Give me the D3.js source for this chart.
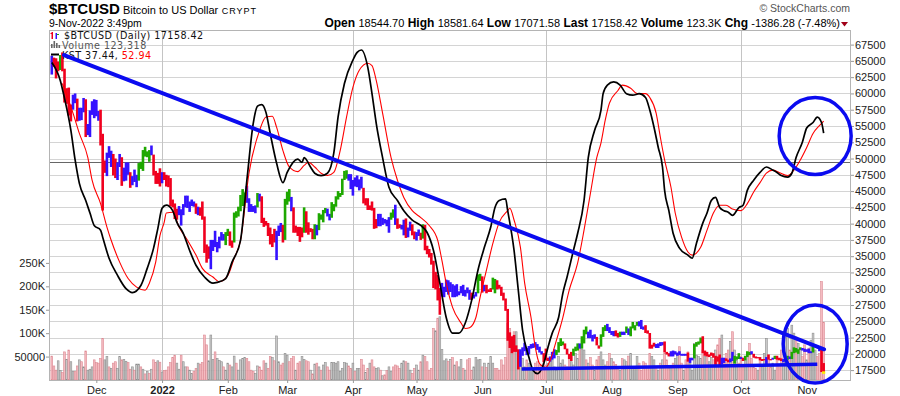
<!DOCTYPE html>
<html><head><meta charset="utf-8">
<script src="https://cdn.jsdelivr.net/npm/d3@7"></script>
<style>
body{margin:0;background:#fff;}
svg{display:block;font-family:"Liberation Sans",Arial,sans-serif;}
</style></head><body>
<svg id="chart" width="900" height="396"></svg>
<script>
// ---------------- DATA ----------------
const firstDay = "2021-11-10"; // daily bars, one per calendar day
const closes = [
64950,64860,64160,64470,65470,63560,60300,60370,56940,58120,59700,58730,56290,57570,57200,58900,53600,54800,57300,57800,57000,
56900,56500,53600,49200,49400,50600,50500,50600,47700,47200,49300,50100,46700,48400,48900,47600,46200,46800,46700,46900,49000,48600,50800,50400,50800,50600,50600,47500,46500,47100,46300,
47700,47300,46400,45900,43500,43100,41600,41800,41900,41800,42700,43900,42600,43100,43200,43100,42300,42400,41700,40700,36500,35100,36300,36700,36900,36800,37200,37700,38200,37900,38500,
38700,36900,37300,41600,41400,42400,43800,44100,44300,43600,42300,42200,42100,42600,44600,43900,40500,40000,40100,38400,37000,38300,37300,38300,39200,39100,37700,43200,
44400,44000,42400,39100,39400,38400,37900,38700,41900,39400,38700,38800,37800,39700,39300,41100,40900,41800,42200,41300,41000,42400,42900,44000,44300,44500,46800,47100,47500,47100,45500,
46300,45800,46400,46600,45500,43200,43400,42300,42800,42200,39500,40100,41200,39900,40500,40400,39700,40800,41500,41400,40500,39700,39500,39500,40400,38100,39200,39700,38600,37700,
38500,38500,37700,39700,36500,36000,35500,34100,30300,31000,29000,29000,29300,30100,31300,29900,30400,28700,30300,29200,29400,30300,29100,29700,29600,29300,28600,29000,29400,31700,31800,
29800,30500,29700,29900,29900,31400,31100,30200,30100,29100,28400,26800,22500,22200,22600,20400,20500,19000,20600,20600,20700,20000,21100,21200,21500,21000,20700,20300,20100,19800,
19300,19300,19300,20200,20200,20600,21600,21600,21600,20800,19900,19300,20200,20600,20800,21200,20800,22400,23400,23200,23200,22700,22500,22600,21300,21200,22900,23800,23800,23600,23300,
23300,23000,22800,22600,23300,23000,23200,23800,23200,23900,23900,24400,24400,24300,24100,23900,23300,23200,20900,21200,21500,21400,21500,21400,21600,20300,20100,19600,20300,19800,20000,
20100,20000,19800,20000,19800,18800,19300,19300,21400,21600,21800,22400,20200,20200,19700,19800,20100,19400,19500,18900,18500,19400,19300,18900,18800,19200,19100,19400,19600,19400,
19300,19000,19600,20300,20200,19900,19500,19400,19400,19100,19100,19200,19400,19200,19100,19300,19500,19300,19100,19000,19200,19200,19600,19300,20100,20800,20300,20600,20800,20600,20500,
20500,20200,20200,21100,21300,20900,20600,18500,17158.42];
const highs = [
65800,65500,65400,64900,65900,66300,63800,60800,60900,58300,59800,60000,59200,57800,57800,59300,59100,55300,57400,58800,59100,
59000,57300,57500,53800,49700,50900,51900,51200,50700,50000,49400,50700,50200,48600,49400,49400,47900,47300,48300,47500,49300,49500,51300,51800,51100,51300,52000,50600,48100,47800,48500,
47900,47900,47500,47400,47000,43700,43100,42300,42700,42200,43000,44300,44300,43400,43700,43400,43100,42600,42500,43400,41100,36800,36500,37500,37500,38900,37200,38000,38700,38400,38700,
39200,38800,37400,41700,41900,42600,44400,45300,44800,45800,43900,43000,42700,42800,44700,44600,44200,40900,40400,40100,39400,38400,39200,38900,39700,40100,39800,43800,
44900,45300,44100,42500,39700,39500,39500,39400,42500,41900,40200,39300,39200,39900,39800,41600,41400,42100,42400,42300,41500,43300,43000,44200,45000,44700,46900,48100,48200,47600,47600,
46700,47100,47400,46800,47200,45500,43900,43900,42800,43400,42400,40700,41500,41500,40900,40700,40600,41000,41700,42200,42900,40800,39900,39800,40600,40800,39400,40300,39900,38800,
38700,39100,38600,39900,39800,36600,36100,35500,34300,32600,32100,30100,30900,30300,31400,31300,31000,30700,30500,30700,29600,30400,30600,29800,30200,29800,29400,29100,29500,32200,32300,
31900,30600,30600,29900,30100,31700,31500,31300,30600,30300,29400,28500,26900,23300,22700,22900,21300,20700,20700,21000,21700,20900,21200,21500,21600,21800,21500,21100,20400,20100,
20800,19400,19600,20300,20700,20600,21800,22400,21900,21600,20800,20000,20300,20800,21100,21600,21600,22700,23700,24200,23400,23700,22900,23000,22600,21300,23000,24100,24400,24600,24100,
23500,23500,23600,23200,23400,23400,23400,24200,23900,24200,24900,24400,24900,25000,25200,24200,24400,23600,23200,21400,21700,21500,21600,21800,21800,21900,20300,20100,20400,20500,20400,
20200,20400,20000,20000,20000,20200,19400,19400,21500,21800,21900,22500,22700,20500,20300,19900,20200,20100,19700,19600,19900,19400,19400,19300,19100,19300,20300,19700,19600,20100,
19500,19400,19700,20400,20300,20400,20000,19600,19500,19500,19200,19200,19500,19900,19200,19400,19700,19700,19400,19300,19200,19300,19700,19600,20300,21000,20900,20700,21000,20900,20800,
20700,20800,20400,21300,21400,21300,21000,20700,18581.64];
const lows = [
62900,64100,62300,63400,63600,63400,58600,58400,56600,55700,57500,58500,55700,55800,55900,57100,53300,53600,53300,56700,56200,
56500,55800,52000,42000,47800,47300,50100,48700,47400,47000,46700,48700,45800,46500,46600,47500,45500,45900,46400,45600,46600,48400,48100,50300,50200,49500,50500,47400,46100,46100,45700,
46200,46700,45700,45600,42700,42500,40700,40600,41300,39700,41300,42500,42400,41800,42700,42600,41500,41300,41200,40600,35500,34000,34600,33000,35800,36400,35600,36200,37400,37400,36700,
38100,36600,36300,37100,40900,41100,41900,42700,43200,43200,41800,41800,41800,41600,42500,43400,40100,39500,39700,38100,36800,36400,37100,34400,38100,38700,37100,37500,
42900,43400,41900,38600,38600,38100,37200,37900,38600,38600,38300,38700,37600,37600,38200,39000,40600,40200,41600,41100,40500,40900,41900,42600,43700,44100,44400,46700,46900,46600,45300,
44300,45700,45600,45100,45400,43100,42800,42100,42100,42000,39200,39300,39600,39600,39800,40000,39600,38600,40600,40900,39800,39200,39300,39100,38200,37800,37900,38900,38200,37600,
37400,38100,37500,37700,35900,35300,34800,33700,30100,29900,28200,26000,28800,28700,29500,29100,29500,28700,28700,28800,29000,29300,28900,28800,29300,28300,28300,28500,28800,29300,31200,
29400,29600,29300,29500,29500,29900,29300,29900,30000,28900,28200,26600,22000,20900,20100,20300,20300,17600,18000,19700,20400,19800,19900,20800,20900,21000,20600,20200,19900,18700,
19000,18900,18800,19100,19300,19800,20200,21200,21300,20700,19900,19200,18900,19700,20400,20500,20800,20800,21600,23000,22400,22400,21900,22300,21300,20800,21100,22600,23500,23500,23200,
22900,22700,22700,22500,22600,22900,22900,23200,22900,22700,23900,23600,24300,24200,23800,23700,23200,23100,20800,20800,21100,20900,20900,21200,21300,20200,19900,19600,19600,19600,19900,
19700,19800,19700,19700,19700,18800,18600,19000,19300,21100,21400,21600,20100,19700,19600,19500,19700,19400,18300,18800,18200,18400,18600,18900,18700,18700,18900,18500,19100,19200,
19200,18900,19000,19500,19800,19900,19400,19300,19300,19000,18900,19000,18200,19100,19000,19100,19200,19100,19000,18900,18700,19100,19100,19200,19200,20100,20200,20000,20600,20500,20300,
20300,20100,20100,20200,21100,20900,20400,17200,17071.58];
// volume, thousands
const volumeK = [
51,30,21,41,20,16,60,44,64,39,18,18,30,43,39,28,62,21,23,28,43,37,36,46,89,43,50,28,25,36,
39,25,50,43,44,40,37,23,28,21,34,34,28,23,13,18,14,23,43,37,41,38,17,20,21,28,37,48,53,36,
23,53,39,28,28,21,14,18,25,36,34,37,96,75,41,96,44,60,46,42,39,28,21,36,32,28,51,36,21,43,
46,48,46,39,21,18,14,30,28,21,41,36,25,50,48,41,94,39,32,36,57,53,39,46,50,21,36,39,50,44,
41,39,21,13,34,36,28,21,32,37,28,21,37,37,36,39,18,25,37,36,30,25,36,18,25,25,44,32,16,25,
36,43,28,25,26,21,9,11,20,28,18,28,32,30,25,36,41,39,36,21,14,25,32,21,39,53,50,39,21,25,
110,105,132,135,65,41,45,40,
44,48,32,39,28,44,25,21,43,46,21,28,48,43,44,28,36,27,36,50,36,25,25,21,43,32,48,121,110,68,
103,103,60,50,46,28,43,36,28,21,36,39,32,25,36,32,35,39,43,28,21,50,36,43,32,28,50,39,32,57,
46,73,66,64,43,36,48,32,21,43,50,60,43,32,39,57,46,39,33,28,21,46,43,39,51,57,28,28,50,36,
21,39,36,28,57,50,43,28,21,36,43,57,43,25,30,36,46,57,71,36,21,43,60,36,21,78,53,50,46,64,
50,53,39,48,43,64,75,89,96,46,57,64,82,103,64,43,36,50,28,43,57,78,46,28,25,21,43,28,57,89,
43,28,36,21,43,32,64,43,92,110,64,117,100,92,78,64,50,75,43,68,85,100,64,50,57,210,123.318];
// KST (black) and its signal (red): day number since firstDay, value
const kstDays = [0,4,6,9,11,13,16,18,20,23,24,27,31,35,38,42,45,48,50,52,54,57,59,62,65,68,72,76,78,82,85,89,92,95,97,99,101,103,106,109,111,116,118,119,122,124,127,130,133,135,138,142,144,146,149,151,153,156,159,163,166,170,174,177,180,183,186,189,192,195,198,201,204,207,209,211,214,215,218,220,222,225,227,229,232,234,236,239,241,243,246,248,251,253,256,259,260,262,265,268,271,274,277,280,282,284,286,288,289,291,293,296,300,302,304,307,309,311,313,315,317,319,321,324,326,328,331,334,337,340,342,344,347,349,351,354,356,359,361,363,364];
const kstValues = [128,105,82,41,3,-27,-49,-65,-81,-87,-96,-123,-145,-162,-167,-158,-136,-110,-85,-59,-55,-62,-77,-91,-113,-132,-147,-155,-154,-149,-128,-100,-23,50,72,74,64,37,-1,-26,-13,4,0,6,-6,-14,-17,-14,12,58,101,131,141,144,122,88,50,6,-32,-49,-62,-74,-81,-90,-113,-155,-199,-219,-219,-206,-177,-138,-109,-83,-58,-49,-47,-62,-113,-164,-215,-250,-267,-271,-258,-237,-219,-199,-168,-147,-113,-91,-49,6,41,67,88,99,103,99,88,86,88,83,67,45,19,-6,-36,-62,-91,-110,-119,-123,-104,-78,-65,-49,-45,-58,-62,-64,-68,-58,-55,-36,-23,-13,-6,-10,-13,-17,-19,-14,6,26,44,51,58,51,37.44];
const signalDays = [5,10,13,17,19,23,26,28,32,36,40,44,46,49,51,53,54,57,60,64,68,71,76,79,83,86,89,93,98,101,104,106,109,112,116,119,121,124,127,130,133,136,139,142,145,149,151,153,156,160,163,166,170,174,178,182,184,186,189,193,195,197,200,202,205,208,211,215,216,218,221,223,226,228,230,233,235,238,241,244,248,251,254,257,259,261,263,267,269,273,276,280,282,285,287,289,292,294,297,300,302,306,309,312,315,318,321,325,328,331,334,337,340,343,347,350,353,356,359,362,364];
const signalValues = [101,63,37,6,-23,-53,-83,-100,-128,-149,-160,-164,-155,-128,-94,-77,-65,-64,-83,-100,-119,-136,-147,-153,-145,-123,-100,-14,41,58,59,45,15,-6,-12,-4,0,-6,-14,-17,-13,15,58,96,118,127,124,105,63,6,-23,-45,-62,-71,-81,-100,-126,-155,-186,-206,-213,-212,-199,-173,-138,-104,-77,-62,-59,-74,-109,-155,-199,-237,-258,-263,-254,-228,-199,-164,-129,-87,-40,6,25,54,76,92,99,95,88,88,83,63,32,3,-32,-65,-96,-115,-119,-109,-87,-65,-55,-55,-60,-62,-53,-38,-26,-14,-10,-13,-17,-10,3,19,37,47,52.94];
const priceTicks = [17500,20000,22500,25000,27500,30000,32500,35000,37500,40000,42500,45000,47500,50000,52500,55000,57500,60000,62500,65000,67500];
const volumeTicks = [50,100,150,200,250];
const volumeTickLabels = ["50000","100K","150K","200K","250K"];
const monthStarts = ["2021-12-01","2022-01-01","2022-02-01","2022-03-01","2022-04-01","2022-05-01","2022-06-01","2022-07-01","2022-08-01","2022-09-01","2022-10-01","2022-11-01"];
const monthLabels = ["Dec","2022","Feb","Mar","Apr","May","Jun","Jul","Aug","Sep","Oct","Nov"];
const quarterStarts = ["2022-01-01","2022-04-01","2022-07-01","2022-10-01"];
// hand-drawn annotations, in (time, price)
const trendLine = [["2021-11-15T19:00:00Z",65900],["2022-11-09T05:00:00Z",20700]];
const supportLine = [["2022-06-19T14:00:00Z",17650],["2022-11-06T00:00:00Z",18380]];
const circleCenters = [["2022-11-05T00:00:00Z",53450],["2022-11-05T00:00:00Z",21500]];
const quoteLabels = ["Open","High","Low","Last","Volume","Chg"];
const quoteValues = ["18544.70","18581.64","17071.58","17158.42","123.3K","-1386.28 (-7.48%)"];

// ---------------- CHART ----------------
const svg = d3.select("#chart");
const L = 49, R = 851, T = 30, B = 380;
const DAY = 864e5;
const t0 = Date.parse(firstDay + "T00:00:00Z");
const dayDate = d => new Date(t0 + d * DAY);
const n = closes.length;
const dates = d3.range(n).map(dayDate);

const x = d3.scaleUtc().domain([new Date("2021-11-08T16:20:00Z"), new Date("2022-11-21T21:36:00Z")]).range([L, R]);
const y = d3.scaleLinear().domain([17500, 67500]).range([370.1, 44.6]);
const yVol = d3.scaleLinear().domain([0, 250]).range([B, 262.9]);
const yK = d3.scaleLinear().domain([0, 100]).range([162.3, 84.3]);

// grid
const grid = svg.append("g");
grid.selectAll("line.h").data(priceTicks).join("line")
  .attr("x1", L).attr("x2", R).attr("y1", d => Math.round(y(d)) + 0.5).attr("y2", d => Math.round(y(d)) + 0.5)
  .attr("stroke", "#d4d4d4").attr("stroke-width", 1);
grid.selectAll("line.v").data(quarterStarts).join("line")
  .attr("y1", T).attr("y2", B).attr("x1", d => Math.round(x(new Date(d + "T00:00:00Z"))) + 0.5).attr("x2", d => Math.round(x(new Date(d + "T00:00:00Z"))) + 0.5)
  .attr("stroke", "#c4c4c4").attr("stroke-width", 1);
// KST zero line
grid.append("line").attr("x1", L).attr("x2", R).attr("y1", Math.round(yK(0)) + 0.5).attr("y2", Math.round(yK(0)) + 0.5)
  .attr("stroke", "#666").attr("stroke-width", 1);

// volume
const volUp = i => i > 0 && closes[i] >= closes[i - 1];
svg.append("g").selectAll("rect").data(d3.range(n)).join("rect")
  .attr("x", i => x(dates[i]) - 0.9).attr("width", 1.8)
  .attr("y", i => yVol(volumeK[i])).attr("height", i => B - yVol(volumeK[i]))
  .attr("fill", i => volUp(i) ? "#c3c3c3" : "#f4b4ba")
  .attr("stroke", i => volUp(i) ? "#8e8e8e" : "#dc8a93").attr("stroke-width", 0.6)
  .attr("fill-opacity", 0.9);

// Elder impulse colouring derived from closes
function ema(arr, p) { const k = 2 / (p + 1); let prev = arr[0]; return arr.map((v, i) => (prev = i === 0 ? v : v * k + prev * (1 - k))); }
const e13 = ema(closes, 13), e12 = ema(closes, 12), e26 = ema(closes, 26);
const macd = e12.map((v, i) => v - e26[i]);
const msig = ema(macd, 9);
const hist = macd.map((v, i) => v - msig[i]);
const RED = "#f0001e", GREEN = "#1ea800", BLUE = "#3412ff";
const impulse = d3.range(n).map(i => {
  if (i === 0) return BLUE;
  const up = e13[i] > e13[i - 1] && hist[i] > hist[i - 1];
  const dn = e13[i] < e13[i - 1] && hist[i] < hist[i - 1];
  return up ? GREEN : dn ? RED : BLUE;
});
svg.append("g").selectAll("rect").data(d3.range(n)).join("rect")
  .attr("x", i => x(dates[i]) - 1.3).attr("width", 2.6)
  .attr("y", i => y(highs[i])).attr("height", i => Math.max(1.2, y(lows[i]) - y(highs[i])))
  .attr("fill", i => impulse[i]);
// last-price marker
svg.append("rect").attr("x", x(dates[n - 1]) - 1.6).attr("width", 3.2)
  .attr("y", y(closes[n - 1]) - 1).attr("height", 2.5).attr("fill", "#ffee00");

// KST lines
const kLine = d3.line().x(d => x(dayDate(d[0]))).y(d => yK(d[1])).curve(d3.curveMonotoneX);
svg.append("path").datum(signalDays.map((d, i) => [d, signalValues[i]]))
  .attr("d", kLine).attr("fill", "none").attr("stroke", "#ff0000").attr("stroke-width", 1.1);
svg.append("path").datum(kstDays.map((d, i) => [d, kstValues[i]]))
  .attr("d", kLine).attr("fill", "none").attr("stroke", "#000").attr("stroke-width", 1.7);

// frame
svg.append("rect").attr("x", L + 0.5).attr("y", T + 0.5).attr("width", R - L - 1).attr("height", B - T)
  .attr("fill", "none").attr("stroke", "#b4b4b4");

// axes
const axR = svg.append("g").attr("transform", `translate(${R},0)`)
  .call(d3.axisRight(y).tickValues(priceTicks).tickSize(3).tickPadding(1).tickFormat(d3.format("d")));
const axL = svg.append("g").attr("transform", `translate(${L},0)`)
  .call(d3.axisLeft(yVol).tickValues(volumeTicks).tickSize(3).tickPadding(1).tickFormat((d, i) => volumeTickLabels[i]));
const axB = svg.append("g").attr("transform", `translate(0,${B})`)
  .call(d3.axisBottom(x).tickValues(monthStarts.map(d => new Date(d + "T00:00:00Z"))).tickSize(3).tickPadding(1).tickFormat((d, i) => monthLabels[i]));
[axR, axL, axB].forEach(a => {
  a.select(".domain").remove();
  a.selectAll(".tick line").attr("stroke", "#999");
  a.selectAll("text").attr("fill", "#222").style("font-size", "11px").style("font-family", '"Liberation Sans",Arial,sans-serif');
});
axB.selectAll("text").attr("dy", "0.95em").style("font-weight", (d, i) => monthLabels[i] === "2022" ? "bold" : "normal");

// header
const hdr = svg.append("g").attr("fill", "#000");
const t1 = hdr.append("text").attr("x", L).attr("y", 13.5);
t1.append("tspan").text("$BTCUSD").style("font-weight", "bold").style("font-size", "15px");
t1.append("tspan").text(" Bitcoin to US Dollar").style("font-size", "11px");
t1.append("tspan").text("  CRYPT").style("font-size", "9px").style("letter-spacing", "1px");
hdr.append("text").attr("x", L).attr("y", 26.5).style("font-size", "10.5px").text("9-Nov-2022 3:49pm");
const q = hdr.append("text").attr("x", 840).attr("y", 26.5).attr("text-anchor", "end");
quoteLabels.forEach((lab, i) => {
  q.append("tspan").text((i ? "  " : "") + lab + " ").style("font-weight", "bold").style("font-size", "12px");
  q.append("tspan").text(quoteValues[i]).style("font-size", "11px");
});
hdr.append("path").attr("d", "M841,22 L848,22 L844.5,26.5 Z").attr("fill", "#a00018");
hdr.append("text").attr("x", 850).attr("y", 12).attr("text-anchor", "end").attr("fill", "#555")
  .style("font-size", "10.5px").text("\u00a9 StockCharts.com");

// legend inside plot
const lg = svg.append("g").style("font-family", '"DejaVu Sans",Verdana,sans-serif').style("font-size", "9.6px").style("letter-spacing", "0.45px");
lg.append("rect").attr("x", 51.5).attr("y", 32).attr("width", 1.5).attr("height", 7).attr("fill", RED);
lg.append("rect").attr("x", 50.5).attr("y", 33).attr("width", 2).attr("height", 1).attr("fill", RED);
lg.append("rect").attr("x", 55.5).attr("y", 33).attr("width", 1.5).attr("height", 6).attr("fill", BLUE);
lg.append("rect").attr("x", 57).attr("y", 34).attr("width", 2).attr("height", 1).attr("fill", GREEN);
lg.append("text").attr("x", 64).attr("y", 38.5).attr("fill", "#111").text("$BTCUSD (Daily) 17158.42");
[[51, 4], [53.5, 7], [56, 5], [58.5, 3]].forEach(([bx, bh]) =>
  lg.append("rect").attr("x", bx).attr("y", 48 - bh).attr("width", 1.6).attr("height", bh).attr("fill", "#666"));
lg.append("text").attr("x", 62).attr("y", 48.5).attr("fill", "#555").text("Volume 123,318");
lg.append("line").attr("x1", 51).attr("x2", 59).attr("y1", 54.5).attr("y2", 54.5).attr("stroke", "#000").attr("stroke-width", 2);
const kt = lg.append("text").attr("x", 62).attr("y", 58.5).attr("fill", "#111");
kt.append("tspan").text("KST 37.44, ");
kt.append("tspan").attr("fill", "#ff0000").text("52.94");

// annotations
const ann = svg.append("g").attr("fill", "none").attr("stroke", "#0b0bf0");
const pt = d => [x(new Date(d[0])), y(d[1])];
ann.append("path").attr("d", d3.line()(trendLine.map(pt))).attr("stroke-width", 4).attr("stroke-linecap", "round");
ann.append("path").attr("d", d3.line()(supportLine.map(pt))).attr("stroke-width", 3.5);
const radii = [[36, 38.5], [32, 39]];
circleCenters.forEach((c, i) => {
  const [cx, cy] = pt(c);
  ann.append("ellipse").attr("cx", cx).attr("cy", cy).attr("rx", radii[i][0]).attr("ry", radii[i][1]).attr("stroke-width", 3.5);
});
</script>
</body></html>
